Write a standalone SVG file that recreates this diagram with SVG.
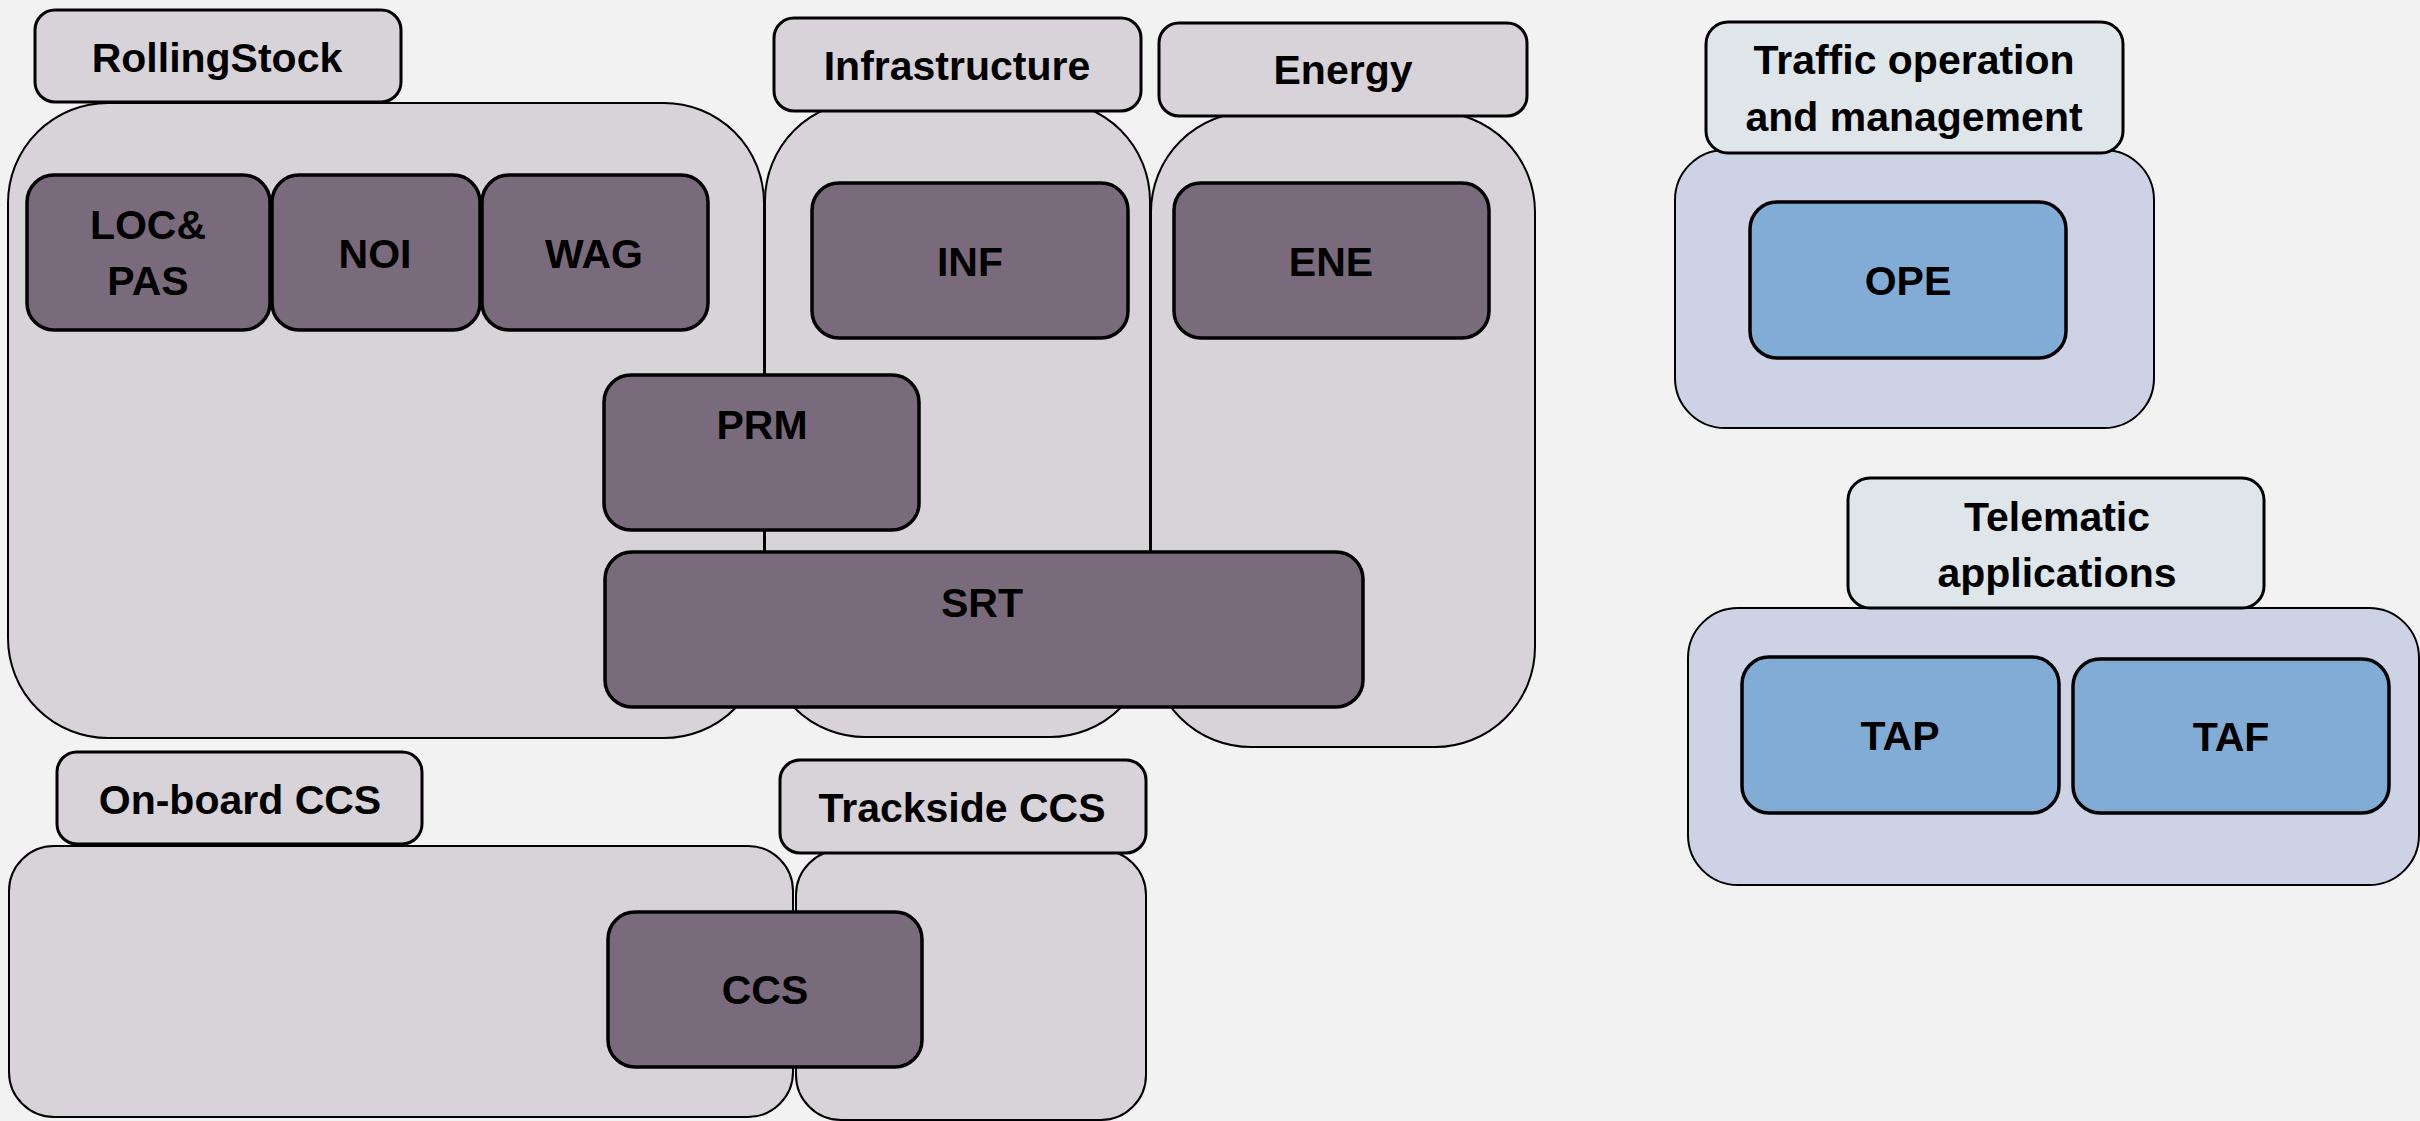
<svg xmlns="http://www.w3.org/2000/svg" width="2420" height="1121" viewBox="0 0 2420 1121">
  <style>
    .grp { fill: #d8d3d9; stroke: #000; stroke-width: 2; }
    .grp-blue { fill: #cdd2e4; stroke: #000; stroke-width: 2; }
    .tag { fill: #d8d3d9; stroke: #000; stroke-width: 3; }
    .tag-blue { fill: #dfe6ea; stroke: #000; stroke-width: 3; }
    .tsi { fill: #796b7c; stroke: #000; stroke-width: 3.5; }
    .tsi-blue { fill: #80acd6; stroke: #000; stroke-width: 3.5; }
    text { font-family: "Liberation Sans", Arial, sans-serif; font-weight: bold; font-size: 41px; fill: #000; text-anchor: middle; }
  </style>
  <rect width="2420" height="1121" fill="#f2f2f2"/>

  <!-- subsystem areas -->
  <g id="area-rollingstock">
    <rect class="grp" x="8" y="103" width="756" height="635" rx="100" ry="100"/>
  </g>
  <g id="area-infrastructure">
    <rect class="grp" x="765" y="101" width="385" height="636" rx="100" ry="100"/>
  </g>
  <g id="area-energy">
    <rect class="grp" x="1151" y="112" width="384" height="635" rx="100" ry="100"/>
  </g>
  <g id="area-onboard-ccs">
    <rect class="grp" x="9" y="846" width="784" height="271" rx="45" ry="45"/>
  </g>
  <g id="area-trackside-ccs">
    <rect class="grp" x="796" y="850" width="350" height="270" rx="45" ry="45"/>
  </g>
  <g id="area-traffic">
    <rect class="grp-blue" x="1675" y="150" width="479" height="278" rx="50" ry="50"/>
  </g>
  <g id="area-telematic">
    <rect class="grp-blue" x="1688" y="608" width="731" height="277" rx="50" ry="50"/>
  </g>

  <!-- area titles -->
  <g id="title-rollingstock">
    <rect class="tag" x="35" y="10" width="366" height="92" rx="20" ry="20"/>
    <text x="217" y="72">RollingStock</text>
  </g>
  <g id="title-infrastructure">
    <rect class="tag" x="774" y="18" width="367" height="93" rx="20" ry="20"/>
    <text x="957" y="80">Infrastructure</text>
  </g>
  <g id="title-energy">
    <rect class="tag" x="1159" y="23" width="368" height="93" rx="20" ry="20"/>
    <text x="1343" y="84">Energy</text>
  </g>
  <g id="title-onboard-ccs">
    <rect class="tag" x="57" y="752" width="365" height="92" rx="20" ry="20"/>
    <text x="240" y="814">On-board CCS</text>
  </g>
  <g id="title-trackside-ccs">
    <rect class="tag" x="780" y="760" width="366" height="93" rx="20" ry="20"/>
    <text x="962" y="822">Trackside CCS</text>
  </g>
  <g id="title-traffic">
    <rect class="tag-blue" x="1706" y="22" width="417" height="131" rx="22" ry="22"/>
    <text x="1914" y="74">Traffic operation</text>
    <text x="1914" y="131">and management</text>
  </g>
  <g id="title-telematic">
    <rect class="tag-blue" x="1848" y="478" width="416" height="130" rx="22" ry="22"/>
    <text x="2057" y="531">Telematic</text>
    <text x="2057" y="587">applications</text>
  </g>

  <!-- TSI blocks -->
  <g id="tsi-locpas">
    <rect class="tsi" x="27" y="175" width="243" height="155" rx="27" ry="27"/>
    <text x="148" y="239">LOC&amp;</text>
    <text x="148" y="295">PAS</text>
  </g>
  <g id="tsi-noi">
    <rect class="tsi" x="272" y="175" width="208" height="155" rx="27" ry="27"/>
    <text x="375" y="268">NOI</text>
  </g>
  <g id="tsi-wag">
    <rect class="tsi" x="482" y="175" width="226" height="155" rx="27" ry="27"/>
    <text x="594" y="268">WAG</text>
  </g>
  <g id="tsi-inf">
    <rect class="tsi" x="812" y="183" width="316" height="155" rx="27" ry="27"/>
    <text x="970" y="276">INF</text>
  </g>
  <g id="tsi-ene">
    <rect class="tsi" x="1174" y="183" width="315" height="155" rx="27" ry="27"/>
    <text x="1331" y="276">ENE</text>
  </g>
  <g id="tsi-prm">
    <rect class="tsi" x="604" y="375" width="315" height="155" rx="27" ry="27"/>
    <text x="762" y="439">PRM</text>
  </g>
  <g id="tsi-srt">
    <rect class="tsi" x="605" y="552" width="758" height="155" rx="27" ry="27"/>
    <text x="982" y="617">SRT</text>
  </g>
  <g id="tsi-ccs">
    <rect class="tsi" x="608" y="912" width="314" height="155" rx="27" ry="27"/>
    <text x="765" y="1004">CCS</text>
  </g>
  <g id="tsi-ope">
    <rect class="tsi-blue" x="1750" y="202" width="316" height="156" rx="27" ry="27"/>
    <text x="1908" y="295">OPE</text>
  </g>
  <g id="tsi-tap">
    <rect class="tsi-blue" x="1742" y="657" width="317" height="156" rx="27" ry="27"/>
    <text x="1900" y="750">TAP</text>
  </g>
  <g id="tsi-taf">
    <rect class="tsi-blue" x="2073" y="659" width="316" height="154" rx="27" ry="27"/>
    <text x="2231" y="751">TAF</text>
  </g>
</svg>
